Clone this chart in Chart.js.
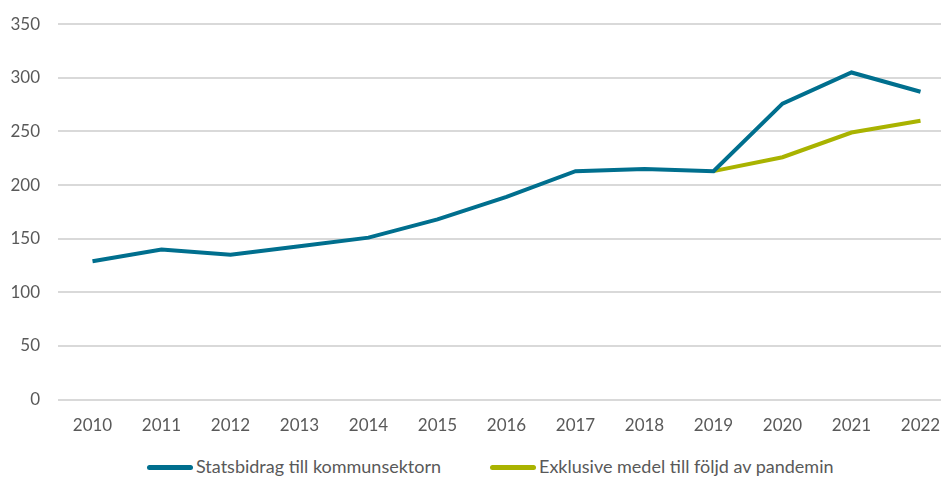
<!DOCTYPE html>
<html lang="sv">
<head>
  <meta charset="UTF-8" />
  <title>Statsbidrag till kommunsektorn</title>
  <script src="https://cdn.jsdelivr.net/npm/chart.js"></script>
  <style>
    html, body {
      margin: 0;
      padding: 0;
      background: #fff;
      overflow: hidden;
      font-family: Lato, "Open Sans", sans-serif;
    }
    .wrap {
      position: relative;
      width: 955px;
      height: 450px;
      margin-top: -4px;
    }
    .legend {
      position: absolute;
      top: 455px;
      left: 0;
      width: 941px;
      height: 22px;
      color: #595959;
      font-size: 18px;
      line-height: 22px;
    }
    .legend .item {
      position: absolute;
      top: 0;
      white-space: nowrap;
    }
    .legend .swatch {
      display: inline-block;
      width: 46px;
      height: 5px;
      border-radius: 3px;
      vertical-align: middle;
      margin-right: 3px;
      position: relative;
      top: -1px;
    }
  </style>
</head>
<body>
  <div class="wrap">
    <canvas id="chart"></canvas>
  </div>
  <div class="legend" id="legend"></div>

  <script>
    const years = ['2010', '2011', '2012', '2013', '2014', '2015', '2016', '2017', '2018', '2019', '2020', '2021', '2022'];
    const statsbidrag = [129, 140, 135, 143, 151, 168, 189, 213, 215, 213, 276, 305, 287];
    const exklusive = [null, null, null, null, null, null, null, null, null, 213, 226, 249, 260];
    const yTicks = [0, 50, 100, 150, 200, 250, 300, 350];
    const seriesNames = ['Statsbidrag till kommunsektorn', 'Exklusive medel till följd av pandemin'];
    const seriesColors = ['#006f8e', '#a9b300'];

    const textColor = '#595959';
    const font = { family: 'Lato, "Open Sans", sans-serif', size: 17 };

    const chart = new Chart(document.getElementById('chart'), {
      type: 'line',
      data: {
        labels: years,
        datasets: [
          {
            label: seriesNames[0],
            data: statsbidrag,
            borderColor: seriesColors[0],
            backgroundColor: seriesColors[0],
            borderWidth: 4,
            pointRadius: 0,
            tension: 0
          },
          {
            label: seriesNames[1],
            data: exklusive,
            borderColor: seriesColors[1],
            backgroundColor: seriesColors[1],
            borderWidth: 4,
            pointRadius: 0,
            tension: 0
          }
        ]
      },
      options: {
        responsive: true,
        maintainAspectRatio: false,
        animation: false,
        layout: { padding: { top: 3, left: 10, right: 0, bottom: 2 } },
        scales: {
          x: {
            offset: true,
            grid: { display: false },
            border: { display: false },
            ticks: { color: textColor, font: font, padding: 8, maxRotation: 0 }
          },
          y: {
            min: 0,
            max: 350,
            afterBuildTicks: axis => { axis.ticks = yTicks.map(v => ({ value: v })); },
            afterFit: axis => { axis.width = 48; },
            grid: { color: '#d9d9d9', lineWidth: 2, drawTicks: false },
            border: { display: false },
            ticks: { color: textColor, font: font, padding: 18 }
          }
        },
        plugins: {
          legend: { display: false },
          tooltip: { enabled: false }
        }
      }
    });

    // legend as html, placed like the original
    const legendX = [147, 490];
    const legend = document.getElementById('legend');
    chart.data.datasets.forEach((ds, i) => {
      const item = document.createElement('span');
      item.className = 'item';
      item.style.left = legendX[i] + 'px';
      const sw = document.createElement('span');
      sw.className = 'swatch';
      sw.style.background = ds.borderColor;
      item.appendChild(sw);
      item.appendChild(document.createTextNode(ds.label));
      legend.appendChild(item);
    });
  </script>
</body>
</html>
